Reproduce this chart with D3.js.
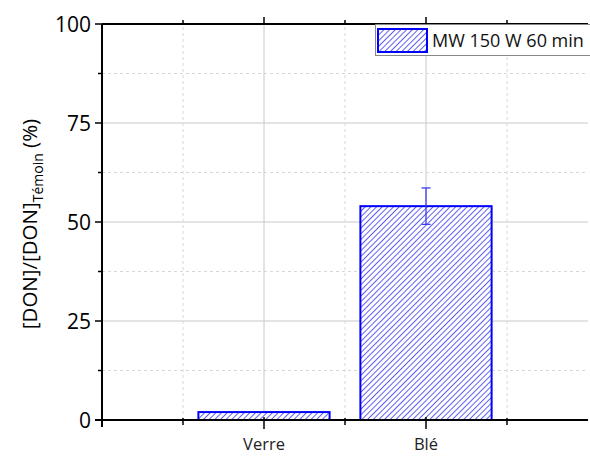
<!DOCTYPE html>
<html>
<head>
<meta charset="utf-8">
<script src="https://cdn.jsdelivr.net/npm/d3@7"></script>
<style>
  body { margin: 0; background: #fff; }
  svg { font-family: "Open Sans", "DejaVu Sans", sans-serif; }
</style>
</head>
<body>
<script>
// data
var categories = ["Verre", "Blé"];
var values = [2, 54];
var errors = [0, 4.6];
var seriesName = "MW 150 W 60 min";
var yTicks = [0, 25, 50, 75, 100];
var yMinor = [12.5, 37.5, 62.5, 87.5];

var width = 590, height = 456;
var margin = {top: 24, right: 2, bottom: 36, left: 102};

var svg = d3.select("body").append("svg")
    .attr("width", width)
    .attr("height", height);

// hatch pattern
var defs = svg.append("defs");
var pat = defs.append("pattern")
    .attr("id", "hatch")
    .attr("patternUnits", "userSpaceOnUse")
    .attr("width", 4)
    .attr("height", 4)
    .attr("patternTransform", "rotate(45)");
pat.append("rect").attr("width", 4).attr("height", 4).attr("fill", "#fff");
pat.append("line")
    .attr("x1", 0).attr("y1", 0).attr("x2", 0).attr("y2", 4)
    .attr("stroke", "#2a2ae8").attr("stroke-width", 1.5);

var x = d3.scaleLinear().domain([0, 3]).range([margin.left, margin.left + 486]);
var y = d3.scaleLinear().domain([0, 100]).range([height - margin.bottom, margin.top]);

var xMajor = categories.map(function(d, i) { return i + 1; });
var xMinor = [0.5, 1.5, 2.5];

// grid
var grid = svg.append("g");
grid.selectAll(".hg").data(yTicks.slice(1, 4)).enter().append("line")
    .attr("x1", x(0)).attr("x2", x(3))
    .attr("y1", function(d) { return y(d); }).attr("y2", function(d) { return y(d); })
    .attr("stroke", "#c8c8c8").attr("stroke-width", 1);
grid.selectAll(".hm").data(yMinor).enter().append("line")
    .attr("x1", x(0)).attr("x2", x(3))
    .attr("y1", function(d) { return y(d); }).attr("y2", function(d) { return y(d); })
    .attr("stroke", "#d8d8d8").attr("stroke-width", 1).attr("stroke-dasharray", "3,3");
grid.selectAll(".vg").data(xMajor).enter().append("line")
    .attr("x1", function(d) { return x(d); }).attr("x2", function(d) { return x(d); })
    .attr("y1", y(0)).attr("y2", y(100))
    .attr("stroke", "#c8c8c8").attr("stroke-width", 1);
grid.selectAll(".vm").data(xMinor).enter().append("line")
    .attr("x1", function(d) { return x(d); }).attr("x2", function(d) { return x(d); })
    .attr("y1", y(0)).attr("y2", y(100))
    .attr("stroke", "#d8d8d8").attr("stroke-width", 1).attr("stroke-dasharray", "3,3");

// bars
var bw = 0.81 * (x(1) - x(0));
svg.selectAll(".bar").data(values).enter().append("rect")
    .attr("x", function(d, i) { return x(i + 1) - bw / 2; })
    .attr("y", function(d) { return y(d); })
    .attr("width", bw)
    .attr("height", function(d) { return y(0) - y(d); })
    .attr("fill", "url(#hatch)")
    .attr("stroke", "#0000ff")
    .attr("stroke-width", 2);

// error bars
values.forEach(function(v, i) {
  if (!errors[i]) return;
  var cx = x(i + 1);
  var g = svg.append("g").attr("stroke", "#3b3bf0").attr("stroke-width", 1.3);
  g.append("line").attr("x1", cx).attr("x2", cx).attr("y1", y(v - errors[i])).attr("y2", y(v + errors[i]));
  g.append("line").attr("x1", cx - 4.5).attr("x2", cx + 4.5).attr("y1", y(v + errors[i])).attr("y2", y(v + errors[i]));
  g.append("line").attr("x1", cx - 4.5).attr("x2", cx + 4.5).attr("y1", y(v - errors[i])).attr("y2", y(v - errors[i]));
});

// axes
var axisColor = "#000";
// left
var leftAx = svg.append("g");
leftAx.append("line").attr("x1", x(0)).attr("x2", x(0)).attr("y1", y(0) + 7).attr("y2", y(100))
    .attr("stroke", axisColor).attr("stroke-width", 2);
leftAx.selectAll(".t").data(yTicks).enter().append("line")
    .attr("x1", x(0) - 7).attr("x2", x(0))
    .attr("y1", function(d) { return y(d); }).attr("y2", function(d) { return y(d); })
    .attr("stroke", axisColor).attr("stroke-width", 1.5);
leftAx.selectAll(".m").data(yMinor).enter().append("line")
    .attr("x1", x(0) - 4).attr("x2", x(0))
    .attr("y1", function(d) { return y(d); }).attr("y2", function(d) { return y(d); })
    .attr("stroke", axisColor).attr("stroke-width", 1.5);
leftAx.selectAll("text").data(yTicks).enter().append("text")
    .attr("x", x(0) - 11)
    .attr("y", function(d) { return y(d); })
    .attr("dy", "0.36em")
    .attr("text-anchor", "end")
    .attr("font-size", 21)
    .attr("fill", "#000")
    .text(function(d) { return d; });

// bottom
var bottomAx = svg.append("g");
bottomAx.append("line").attr("x1", x(0) - 7).attr("x2", x(3)).attr("y1", y(0)).attr("y2", y(0))
    .attr("stroke", axisColor).attr("stroke-width", 2);
bottomAx.selectAll(".t").data(xMajor).enter().append("line")
    .attr("x1", function(d) { return x(d); }).attr("x2", function(d) { return x(d); })
    .attr("y1", y(0) - 3).attr("y2", y(0) + 9)
    .attr("stroke", axisColor).attr("stroke-width", 1.5);
bottomAx.selectAll(".m").data(xMinor).enter().append("line")
    .attr("x1", function(d) { return x(d); }).attr("x2", function(d) { return x(d); })
    .attr("y1", y(0) - 2).attr("y2", y(0) + 5)
    .attr("stroke", axisColor).attr("stroke-width", 1.5);
bottomAx.selectAll("text").data(categories).enter().append("text")
    .attr("x", function(d, i) { return x(i + 1); })
    .attr("y", y(0) + 30)
    .attr("text-anchor", "middle")
    .attr("font-size", 16.5)
    .attr("fill", "#222")
    .text(function(d) { return d; });

// top
var topAx = svg.append("g");
topAx.append("line").attr("x1", x(0)).attr("x2", x(3)).attr("y1", y(100)).attr("y2", y(100))
    .attr("stroke", axisColor).attr("stroke-width", 2);
topAx.selectAll(".t").data(xMajor).enter().append("line")
    .attr("x1", function(d) { return x(d); }).attr("x2", function(d) { return x(d); })
    .attr("y1", y(100)).attr("y2", y(100) - 7)
    .attr("stroke", axisColor).attr("stroke-width", 1.5);
topAx.selectAll(".m").data(xMinor).enter().append("line")
    .attr("x1", function(d) { return x(d); }).attr("x2", function(d) { return x(d); })
    .attr("y1", y(100)).attr("y2", y(100) - 4)
    .attr("stroke", axisColor).attr("stroke-width", 1.5);

// y label
var yl = svg.append("text")
    .attr("transform", "translate(37," + (y(50) + 2) + ") rotate(-90)")
    .attr("text-anchor", "middle")
    .attr("font-size", 20.5)
    .attr("fill", "#000");
yl.append("tspan").text("[DON]/[DON]");
yl.append("tspan").attr("font-size", 14).attr("dy", 6).text("Témoin");
yl.append("tspan").attr("dy", -6).text(" (%)");

// legend
var lg = svg.append("g");
lg.append("rect").attr("x", 375.5).attr("y", 24.5).attr("width", 220).attr("height", 31)
    .attr("fill", "#fff").attr("stroke", "#888").attr("stroke-width", 1);
lg.append("rect").attr("x", 378).attr("y", 29).attr("width", 49).attr("height", 23)
    .attr("fill", "url(#hatch)").attr("stroke", "#0000ff").attr("stroke-width", 2);
lg.append("text").attr("x", 432).attr("y", 47).attr("font-size", 18).attr("fill", "#111")
    .text(seriesName);
</script>
</body>
</html>
